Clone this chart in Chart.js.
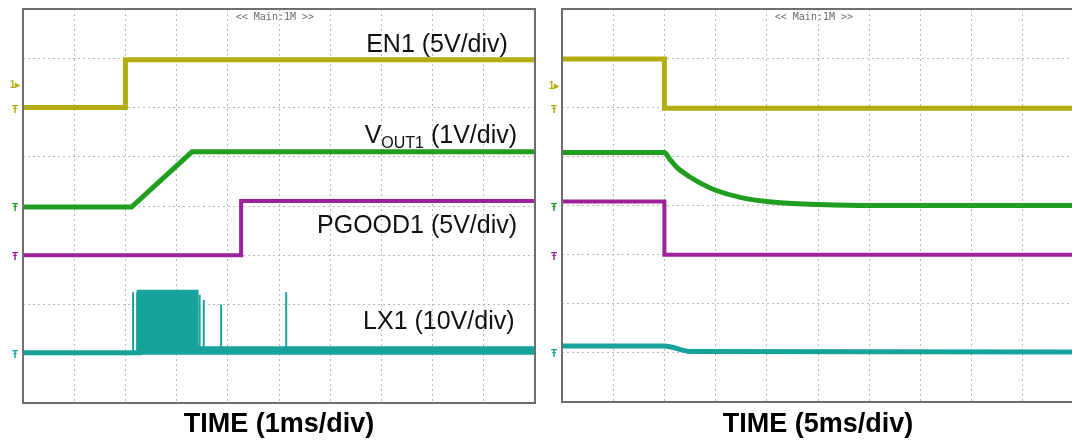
<!DOCTYPE html>
<html>
<head>
<meta charset="utf-8">
<script src="https://cdn.jsdelivr.net/npm/chart.js@4/dist/chart.umd.min.js"></script>
<style>
html, body { margin: 0; padding: 0; background: #fff; overflow: hidden; }
#wrap { position: relative; width: 1072px; height: 441px; }
canvas { position: absolute; top: 0; }
</style>
</head>
<body>
<div id="wrap">
    <canvas id="startChart" width="545" height="441" style="left:0"></canvas>
    <canvas id="stopChart" width="530" height="441" style="left:545px"></canvas>
</div>
<script>
// scope screen divisions
const xTicks = [0, 1, 2, 3, 4, 5, 6, 7, 8, 9, 10];
const yTicks = [0, 1, 2, 3, 4, 5, 6, 7, 8];

// startup, 1ms/div (positions in divisions)
const en1UpT = [0, 2.0, 2.0, 10];
const en1UpV = [6.0, 6.0, 6.97, 6.97];
const vout1UpT = [0, 2.12, 3.3, 10];
const vout1UpV = [3.98, 3.98, 5.1, 5.1];
const pgood1UpT = [0, 4.26, 4.26, 10];
const pgood1UpV = [3.0, 3.0, 4.1, 4.1];
const lx1UpT = [0, 2.27, 2.27, 3.38, 3.38, 10];
const lx1UpV = [1.02, 1.02, 2.25, 2.25, 1.1, 1.1];
const lx1SpikeT = [2.15, 2.23, 3.45, 3.53, 3.87, 5.14];
const lx1SpikeTop = [2.25, 2.25, 2.2, 2.09, 2.0, 2.25];

// shutdown, 5ms/div
const en1DnT = [0, 2.0, 2.0, 10];
const en1DnV = [6.98, 6.98, 5.98, 5.98];
const vout1DnT = [0, 2.0, 2.1, 2.25, 2.5, 2.75, 3.0, 3.5, 4.0, 4.5, 5.0, 6.0, 10];
const vout1DnV = [5.08, 5.08, 4.95, 4.77, 4.58, 4.43, 4.31, 4.16, 4.08, 4.04, 4.02, 4.0, 4.0];
const pgood1DnT = [0, 2.0, 2.0, 10];
const pgood1DnV = [4.08, 4.08, 3.0, 3.0];
const lx1DnT = [0, 2.0, 2.5, 10];
const lx1DnV = [1.14, 1.14, 1.03, 1.02];

const traceNames = ['EN1', 'VOUT1', 'PGOOD1', 'LX1'];
const xTitles = ['TIME (1ms/div)', 'TIME (5ms/div)'];
const mainTag = '<< Main:1M >>';

const colEn = '#b3ad14';
const colVout = '#1f9e1f';
const colPg = '#9e219c';
const colLx = '#17a29c';
const fontFam = "'Liberation Sans', Arial, sans-serif";

const pts = (t, v) => t.map((x, i) => ({ x: x, y: v[i] }));

function spikePts(t, top, base) {
    const out = [];
    t.forEach((x, i) => {
        out.push({ x: x, y: base }, { x: x, y: top[i] }, { x: x, y: null });
    });
    return out;
}

function trace(label, data, color, width, extra) {
    return Object.assign({
        label: label,
        data: data,
        borderColor: color,
        backgroundColor: color,
        borderWidth: width,
        pointRadius: 0,
        tension: 0,
        fill: false,
        spanGaps: false,
    }, extra || {});
}

// frame, texts and channel markers
const scopeText = {
    id: 'scopeText',
    afterDatasetsDraw(chart, args, opts) {
        const { ctx, chartArea: a, scales: { x, y } } = chart;
        ctx.save();
        ctx.strokeStyle = '#6e6e6e';
        ctx.lineWidth = 2;
        ctx.strokeRect(a.left, a.top, a.right - a.left, a.bottom - a.top);

        ctx.fillStyle = '#6a6a6a';
        ctx.font = "10px 'DejaVu Sans Mono', monospace";
        ctx.textAlign = 'center';
        ctx.textBaseline = 'middle';
        ctx.fillText(mainTag, x.getPixelForValue(opts.mainAt), a.top + 8);

        ctx.textBaseline = 'alphabetic';
        ctx.textAlign = 'left';
        (opts.labels || []).forEach(lb => {
            let w = 0;
            lb.parts.forEach(p => {
                ctx.font = p.size + 'px ' + fontFam;
                w += ctx.measureText(p.text).width;
            });
            let px = x.getPixelForValue(lb.x) - w;
            const py = y.getPixelForValue(lb.y);
            ctx.fillStyle = '#111';
            lb.parts.forEach(p => {
                ctx.font = p.size + 'px ' + fontFam;
                ctx.fillText(p.text, px, py + p.dy);
                px += ctx.measureText(p.text).width;
            });
        });

        ctx.font = 'bold 10px ' + fontFam;
        ctx.textAlign = 'center';
        ctx.textBaseline = 'middle';
        (opts.markers || []).forEach(m => {
            ctx.fillStyle = m.color;
            ctx.fillText(m.text, a.left - 8, y.getPixelForValue(m.y));
        });
        ctx.restore();
    }
};

function scopeOptions(title, pad, axisH, textOpts) {
    return {
        responsive: false,
        animation: false,
        events: [],
        layout: { padding: pad },
        plugins: {
            legend: { display: false },
            tooltip: { enabled: false },
            scopeText: textOpts,
        },
        scales: {
            x: {
                type: 'linear',
                min: 0,
                max: 10,
                afterBuildTicks: s => { s.ticks = xTicks.map(v => ({ value: v })); },
                afterFit: s => { s.height = axisH; },
                ticks: { display: false },
                grid: { color: '#b9b9b9', lineWidth: 1, drawTicks: false },
                border: { display: false, dash: [2, 3] },
                title: {
                    display: true,
                    text: title,
                    color: '#000',
                    font: { family: fontFam, size: 27, weight: 'bold' },
                    padding: { top: 0, bottom: 0 },
                },
            },
            y: {
                min: 0,
                max: 8,
                afterBuildTicks: s => { s.ticks = yTicks.map(v => ({ value: v })); },
                afterFit: s => { s.width = 0; },
                ticks: { display: false },
                grid: { color: '#b9b9b9', lineWidth: 1, drawTicks: false },
                border: { display: false, dash: [2, 3] },
            }
        }
    };
}

const markerSet = (yEn) => [
    { text: '1▸', y: yEn + 0.45, color: colEn },
    { text: 'Ŧ', y: yEn - 0.05, color: colEn },
    { text: 'Ŧ', y: 3.95, color: colVout },
    { text: 'Ŧ', y: 2.95, color: colPg },
    { text: 'Ŧ', y: 0.97, color: colLx },
];

const startCtx = document.getElementById('startChart');
if (startCtx) {
    new Chart(startCtx, {
        type: 'line',
        data: {
            datasets: [
                trace(traceNames[0], pts(en1UpT, en1UpV), colEn, 5),
                trace(traceNames[1], pts(vout1UpT, vout1UpV), colVout, 5),
                trace(traceNames[2], pts(pgood1UpT, pgood1UpV), colPg, 4),
                trace(traceNames[3], pts(lx1UpT, lx1UpV), colLx, 5, { fill: { value: 0.98 } }),
                trace(traceNames[3] + ' spikes', spikePts(lx1SpikeT, lx1SpikeTop, 1.05), colLx, 2),
            ]
        },
        options: scopeOptions(xTitles[0], { left: 23, top: 9, right: 10, bottom: 0 }, 38, {
            mainAt: 4.92,
            labels: [
                { x: 9.47, y: 7.13, parts: [{ text: 'EN1 (5V/div)', size: 25, dy: 0 }] },
                { x: 9.65, y: 5.28, parts: [
                    { text: 'V', size: 25, dy: 0 },
                    { text: 'OUT1', size: 16, dy: 5 },
                    { text: ' (1V/div)', size: 25, dy: 0 },
                ] },
                { x: 9.65, y: 3.46, parts: [{ text: 'PGOOD1 (5V/div)', size: 25, dy: 0 }] },
                { x: 9.6, y: 1.5, parts: [{ text: 'LX1 (10V/div)', size: 25, dy: 0 }] },
            ],
            markers: markerSet(6.0),
        }),
        plugins: [scopeText]
    });
}

const stopCtx = document.getElementById('stopChart');
if (stopCtx) {
    new Chart(stopCtx, {
        type: 'line',
        data: {
            datasets: [
                trace(traceNames[0], pts(en1DnT, en1DnV), colEn, 5),
                trace(traceNames[1], pts(vout1DnT, vout1DnV), colVout, 5, { cubicInterpolationMode: 'monotone' }),
                trace(traceNames[2], pts(pgood1DnT, pgood1DnV), colPg, 4),
                trace(traceNames[3], pts(lx1DnT, lx1DnV), colLx, 5, { cubicInterpolationMode: 'monotone' }),
            ]
        },
        options: scopeOptions(xTitles[1], { left: 17, top: 9, right: 1, bottom: 0 }, 39, {
            mainAt: 4.92,
            labels: [],
            markers: markerSet(5.98),
        }),
        plugins: [scopeText]
    });
}
</script>
</body>
</html>
